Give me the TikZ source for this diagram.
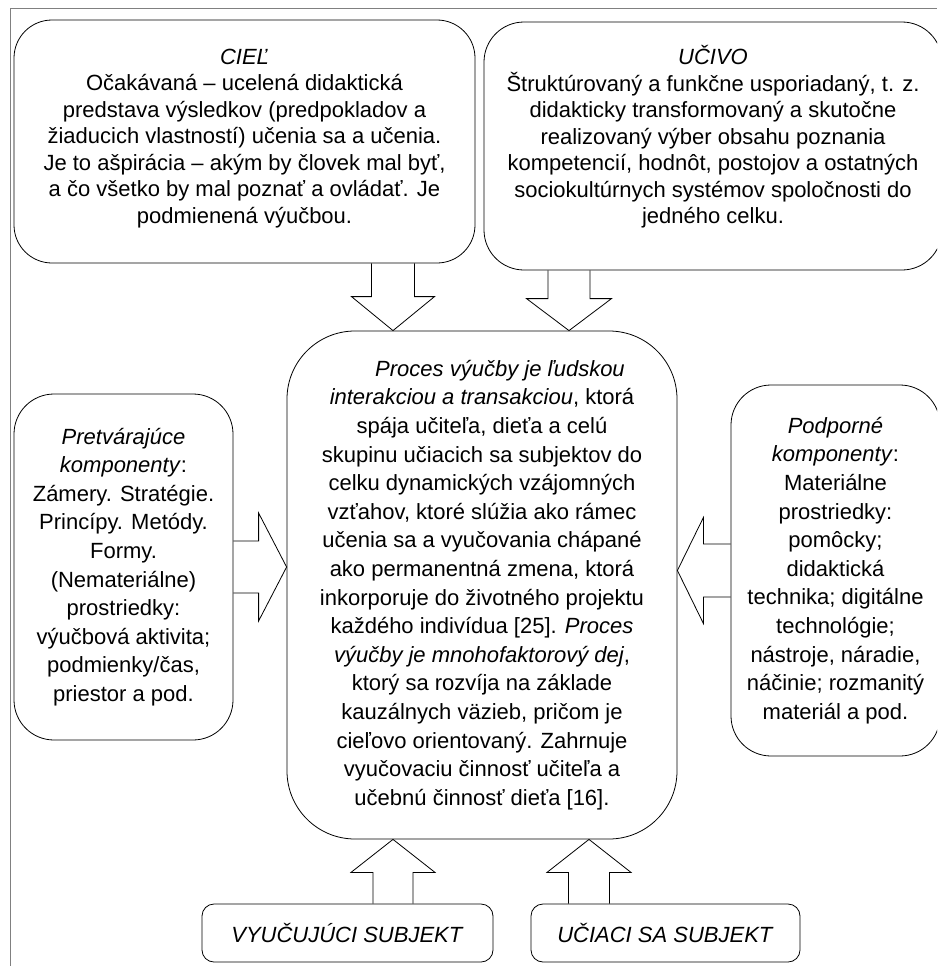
\documentclass[tikz,border=0pt]{standalone}
\usepackage{fontspec}
\setmainfont{Liberation Sans}
\usetikzlibrary{calc}

\tikzset{
	blok/.style={draw, line width=0.8pt, rounded corners=#1, inner sep=0pt, align=center,
		font=\fontsize{22}{28.6}\selectfont},
	blok/.default=40pt,
	popis/.style={align=center, inner sep=0pt, font=\fontsize{22}{26.5}\selectfont},
	sipka/.style={draw, line width=0.8pt, line join=miter},
	ramcek/.style={draw=gray, line width=0.8pt}
}

% duta sipka: #1 zaciatok, #2 hrot, #3 pol. drieku, #4 pol. hlavy, #5 dlzka hlavy
\newcommand{\dutasipka}[5]{
	\coordinate (zac) at (#1);
	\coordinate (hrot) at (#2);
	\coordinate (zak) at ($(hrot)!#5!(zac)$);
	\draw[sipka] ($(zac)!#3!90:(hrot)$) -- ($(zak)!#3!90:(hrot)$)
		-- ($(zak)!#4!90:(hrot)$) -- (hrot) -- ($(zak)!#4!-90:(hrot)$)
		-- ($(zak)!#3!-90:(hrot)$) -- ($(zac)!#3!-90:(hrot)$);
}

\begin{document}
\begin{tikzpicture}[x=1pt, y=-1pt]
	\useasboundingbox (0,0) rectangle (937,966);
	\clip (0,0) rectangle (937,966);

	% ramcek
	\draw[ramcek] (10,966) -- (10,8) -- (937,8);

	% ciel
	\node[blok=38pt, minimum width=461pt, minimum height=243pt] (ciel) at (244.5,141.5) {};
	\node[popis] (cieltext) at ([yshift=3pt]ciel.center) {\textit{CIEĽ}\\
		Očakávaná – ucelená didaktická\\
		predstava výsledkov (predpokladov a\\
		žiaducich vlastností) učenia sa a učenia.\\
		Je to ašpirácia – akým by človek mal byť,\\
		a čo všetko by mal poznať a ovládať. Je\\
		podmienená výučbou.};

	% ucivo
	\node[blok=40pt, minimum width=458pt, minimum height=248pt] (ucivo) at (713,146) {};
	\node[popis] (ucivotext) at ([yshift=9pt]ucivo.center) {\textit{UČIVO}\\
		Štruktúrovaný a funkčne usporiadaný, t. z.\\
		didakticky transformovaný a skutočne\\
		realizovaný výber obsahu poznania\\
		kompetencií, hodnôt, postojov a ostatných\\
		sociokultúrnych systémov spoločnosti do\\
		jedného celku.};

	% proces vyucby
	\node[blok=68pt, minimum width=390pt, minimum height=508pt] (proces) at (482,585) {%
		\hspace*{36pt}\textit{Proces výučby je ľudskou}\\
		\textit{interakciou a transakciou}, ktorá\\
		spája učiteľa, dieťa a celú\\
		skupinu učiacich sa subjektov do\\
		celku dynamických vzájomných\\
		vzťahov, ktoré slúžia ako rámec\\
		učenia sa a vyučovania chápané\\
		ako permanentná zmena, ktorá\\
		inkorporuje do životného projektu\\
		každého indivídua [25]. \textit{Proces}\\
		\textit{výučby je mnohofaktorový dej},\\
		ktorý sa rozvíja na základe\\
		kauzálnych väzieb, pričom je\\
		cieľovo orientovaný. Zahrnuje\\
		vyučovaciu činnosť učiteľa a\\
		učebnú činnosť dieťa [16].};

	% bocne komponenty
	\node[blok=40pt, minimum width=219pt, minimum height=346pt] (pretv) at (123.5,567) {%
		\textit{Pretvárajúce}\\
		\textit{komponenty}:\\
		Zámery. Stratégie.\\
		Princípy. Metódy.\\
		Formy.\\
		(Nemateriálne)\\
		prostriedky:\\
		výučbová aktivita;\\
		podmienky/čas,\\
		priestor a pod.};
	\node[blok=40pt, minimum width=209pt, minimum height=371pt] (podp) at (835.5,570.5) {%
		\textit{Podporné}\\
		\textit{komponenty}:\\
		Materiálne\\
		prostriedky:\\
		pomôcky;\\
		didaktická\\
		technika; digitálne\\
		technológie;\\
		nástroje, náradie,\\
		náčinie; rozmanitý\\
		materiál a pod.};

	% subjekty
	\node[blok=12pt, minimum width=291pt, minimum height=58pt] (vyuc) at (347.5,933) {\textit{VYUČUJÚCI SUBJEKT}};
	\node[blok=12pt, minimum width=269pt, minimum height=58pt] (uciaci) at (665.5,933) {\textit{UČIACI SA SUBJEKT}};

	% sipky
	\dutasipka{[xshift=148.5pt]ciel.south}{[xshift=-89pt]proces.north}{21.5pt}{41.5pt}{34pt}
	\dutasipka{[xshift=-144pt]ucivo.south}{[xshift=87pt]proces.north}{21pt}{42.5pt}{32pt}
	\dutasipka{pretv.east}{proces.west |- pretv.east}{26pt}{54pt}{28pt}
	\dutasipka{podp.west}{proces.east |- podp.west}{26.5pt}{53pt}{26pt}
	\dutasipka{[xshift=45.5pt]vyuc.north}{[xshift=-89pt]proces.south}{20pt}{42pt}{33pt}
	\dutasipka{[xshift=-76.5pt]uciaci.north}{[xshift=107pt]proces.south}{20.5pt}{42pt}{33pt}
\end{tikzpicture}
\end{document}
